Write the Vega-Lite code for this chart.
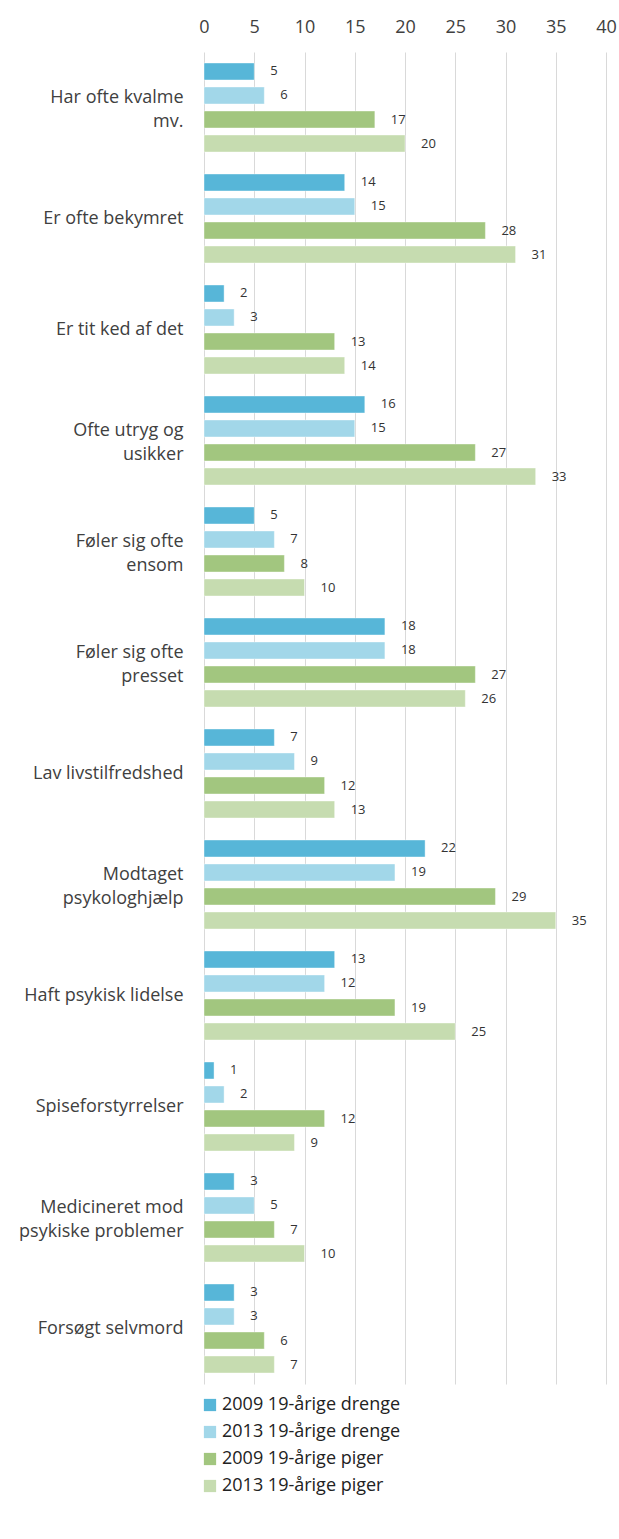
{
  "$schema": "https://vega.github.io/schema/vega-lite/v6.json",
  "autosize": {"type": "none"},
  "padding": {"left": 204, "top": 52, "right": 13, "bottom": 155},
  "width": 402,
  "height": 1332,
  "background": "white",
  "config": {
    "font": "Open Sans",
    "view": {"stroke": null},
    "axis": {"labelFont": "Open Sans", "labelColor": "#404040"}
  },
  "data": {
    "values": [
      {"cat": "Har ofte kvalme|mv.", "series": "2009 19-årige drenge", "v": 5},
      {"cat": "Har ofte kvalme|mv.", "series": "2013 19-årige drenge", "v": 6},
      {"cat": "Har ofte kvalme|mv.", "series": "2009 19-årige piger", "v": 17},
      {"cat": "Har ofte kvalme|mv.", "series": "2013 19-årige piger", "v": 20},
      {"cat": "Er ofte bekymret", "series": "2009 19-årige drenge", "v": 14},
      {"cat": "Er ofte bekymret", "series": "2013 19-årige drenge", "v": 15},
      {"cat": "Er ofte bekymret", "series": "2009 19-årige piger", "v": 28},
      {"cat": "Er ofte bekymret", "series": "2013 19-årige piger", "v": 31},
      {"cat": "Er tit ked af det", "series": "2009 19-årige drenge", "v": 2},
      {"cat": "Er tit ked af det", "series": "2013 19-årige drenge", "v": 3},
      {"cat": "Er tit ked af det", "series": "2009 19-årige piger", "v": 13},
      {"cat": "Er tit ked af det", "series": "2013 19-årige piger", "v": 14},
      {"cat": "Ofte utryg og|usikker", "series": "2009 19-årige drenge", "v": 16},
      {"cat": "Ofte utryg og|usikker", "series": "2013 19-årige drenge", "v": 15},
      {"cat": "Ofte utryg og|usikker", "series": "2009 19-årige piger", "v": 27},
      {"cat": "Ofte utryg og|usikker", "series": "2013 19-årige piger", "v": 33},
      {"cat": "Føler sig ofte|ensom", "series": "2009 19-årige drenge", "v": 5},
      {"cat": "Føler sig ofte|ensom", "series": "2013 19-årige drenge", "v": 7},
      {"cat": "Føler sig ofte|ensom", "series": "2009 19-årige piger", "v": 8},
      {"cat": "Føler sig ofte|ensom", "series": "2013 19-årige piger", "v": 10},
      {"cat": "Føler sig ofte|presset", "series": "2009 19-årige drenge", "v": 18},
      {"cat": "Føler sig ofte|presset", "series": "2013 19-årige drenge", "v": 18},
      {"cat": "Føler sig ofte|presset", "series": "2009 19-årige piger", "v": 27},
      {"cat": "Føler sig ofte|presset", "series": "2013 19-årige piger", "v": 26},
      {"cat": "Lav livstilfredshed", "series": "2009 19-årige drenge", "v": 7},
      {"cat": "Lav livstilfredshed", "series": "2013 19-årige drenge", "v": 9},
      {"cat": "Lav livstilfredshed", "series": "2009 19-årige piger", "v": 12},
      {"cat": "Lav livstilfredshed", "series": "2013 19-årige piger", "v": 13},
      {"cat": "Modtaget|psykologhjælp", "series": "2009 19-årige drenge", "v": 22},
      {"cat": "Modtaget|psykologhjælp", "series": "2013 19-årige drenge", "v": 19},
      {"cat": "Modtaget|psykologhjælp", "series": "2009 19-årige piger", "v": 29},
      {"cat": "Modtaget|psykologhjælp", "series": "2013 19-årige piger", "v": 35},
      {"cat": "Haft psykisk lidelse", "series": "2009 19-årige drenge", "v": 13},
      {"cat": "Haft psykisk lidelse", "series": "2013 19-årige drenge", "v": 12},
      {"cat": "Haft psykisk lidelse", "series": "2009 19-årige piger", "v": 19},
      {"cat": "Haft psykisk lidelse", "series": "2013 19-årige piger", "v": 25},
      {"cat": "Spiseforstyrrelser", "series": "2009 19-årige drenge", "v": 1},
      {"cat": "Spiseforstyrrelser", "series": "2013 19-årige drenge", "v": 2},
      {"cat": "Spiseforstyrrelser", "series": "2009 19-årige piger", "v": 12},
      {"cat": "Spiseforstyrrelser", "series": "2013 19-årige piger", "v": 9},
      {"cat": "Medicineret mod|psykiske problemer", "series": "2009 19-årige drenge", "v": 3},
      {"cat": "Medicineret mod|psykiske problemer", "series": "2013 19-årige drenge", "v": 5},
      {"cat": "Medicineret mod|psykiske problemer", "series": "2009 19-årige piger", "v": 7},
      {"cat": "Medicineret mod|psykiske problemer", "series": "2013 19-årige piger", "v": 10},
      {"cat": "Forsøgt selvmord", "series": "2009 19-årige drenge", "v": 3},
      {"cat": "Forsøgt selvmord", "series": "2013 19-årige drenge", "v": 3},
      {"cat": "Forsøgt selvmord", "series": "2009 19-årige piger", "v": 6},
      {"cat": "Forsøgt selvmord", "series": "2013 19-årige piger", "v": 7}
    ]
  },
  "encoding": {
    "y": {
      "field": "cat",
      "type": "nominal",
      "sort": null,
      "scale": {"paddingInner": 0, "paddingOuter": 0},
      "axis": {
        "title": null,
        "domain": false,
        "ticks": false,
        "labelFontSize": 18,
        "labelPadding": 21,
        "labelLineHeight": 24,
        "labelLimit": 220,
        "labelExpr": "split(datum.label, '|')",
        "labelOffset": {
          "condition": {"test": "indexof(datum.value, '|') >= 0", "value": -10},
          "value": 0
        }
      }
    },
    "yOffset": {
      "field": "series",
      "type": "nominal",
      "sort": ["2009 19-årige drenge", "2013 19-årige drenge", "2009 19-årige piger", "2013 19-årige piger"],
      "scale": {"paddingInner": 0.292, "paddingOuter": 0.458}
    },
    "x": {
      "field": "v",
      "type": "quantitative",
      "scale": {"domain": [0, 40], "nice": false},
      "axis": {
        "orient": "top",
        "title": null,
        "domain": false,
        "ticks": false,
        "labelFlush": false,
        "values": [0, 5, 10, 15, 20, 25, 30, 35, 40],
        "labelFontSize": 18,
        "labelPadding": 16,
        "labelColor": "#404040",
        "gridColor": "#d9d9d9",
        "gridWidth": 1
      }
    }
  },
  "layer": [
    {
      "mark": {"type": "bar", "stroke": "white", "strokeOpacity": 0.4, "strokeWidth": 1},
      "encoding": {
        "color": {
          "field": "series",
          "type": "nominal",
          "scale": {
            "domain": ["2009 19-årige drenge", "2013 19-årige drenge", "2009 19-årige piger", "2013 19-årige piger"],
            "range": ["#57B6D8", "#A2D7E9", "#A2C67F", "#C6DCB0"]
          },
          "legend": {
            "title": null,
            "orient": "none",
            "legendX": -3,
            "legendY": 1344,
            "direction": "vertical",
            "symbolType": "square",
            "symbolSize": 150,
            "symbolStrokeWidth": 0,
            "symbolOpacity": 1,
            "labelFontSize": 18,
            "labelFont": "Open Sans",
            "labelColor": "#222222",
            "labelOffset": 3,
            "rowPadding": 9,
            "labelLimit": 300
          }
        }
      }
    },
    {
      "mark": {"type": "text", "align": "left", "baseline": "middle", "dx": 16, "fontSize": 13, "color": "#333333", "font": "Open Sans"},
      "encoding": {
        "text": {"field": "v", "type": "quantitative"}
      }
    }
  ]
}
